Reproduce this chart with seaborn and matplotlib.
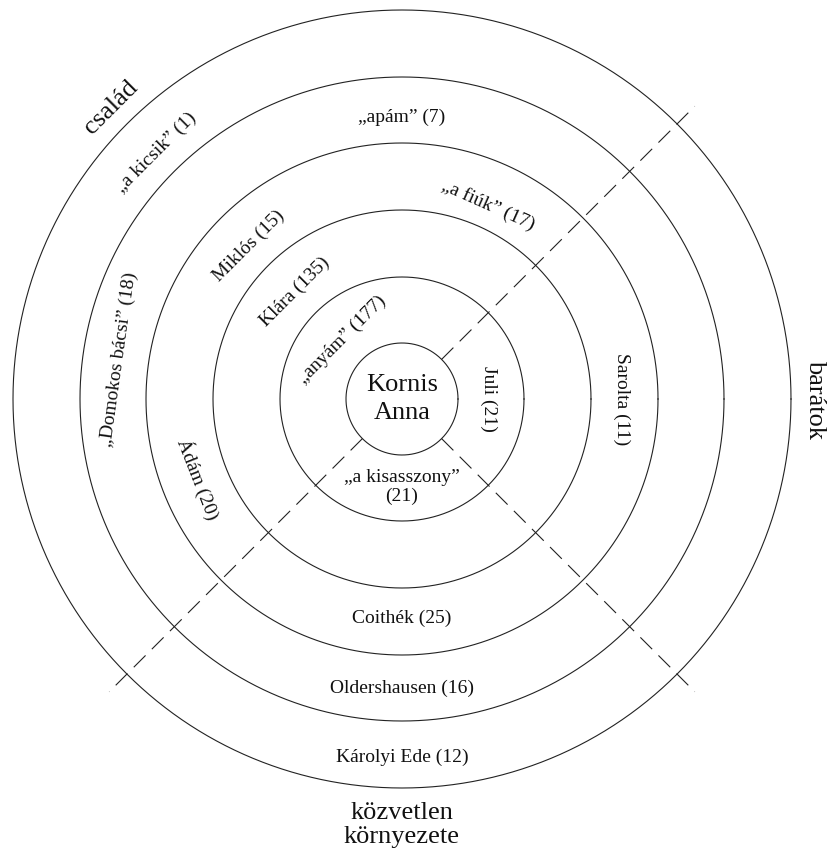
import numpy as np
import pandas as pd
import matplotlib.pyplot as plt
import seaborn as sns

# körök sugarai (px-ben, a középponttól)
ring_radii = [56, 122, 189, 256, 322, 389]

# szaggatott elválasztó vonalak szögei (fok) és hossza
divider_angles = [45, 225, -45]
divider_start = 56
divider_end = 414

# nevek a gyűrűkben
names = ['„anyám” (177)', 'Klára (135)', 'Miklós (15)', '„Domokos bácsi” (18)',
         '„a kicsik” (1)', '„apám” (7)', '„a fiúk” (17)', 'Ádám (20)',
         'Juli (21)', 'Sarolta (11)', '„a kisasszony”\n(21)', 'Coithék (25)',
         'Oldershausen (16)', 'Károlyi Ede (12)']
name_radius = [84, 152, 217, 286, 348, 282, 212, 219, 87, 220, 88, 219, 289, 358]
name_angle = [135, 135, 135, 172, 135, 90, 66, 201.5, 0, 0, -90, -90, -90, -90]

# csoportok a kör szélén
groups = ['család', 'barátok', 'közvetlen\nkörnyezete']
group_radius = [412, 413, 426]
group_angle = [135, 0, -90]

center_name = 'Kornis\nAnna'


def tangent_rotation(a):
    a = a % 360
    if a <= 180 or a == 0:
        return a - 90
    return a + 90


sns.set_theme(style='white')
plt.rcParams['font.family'] = ['Liberation Serif', 'DejaVu Serif']

fig = plt.figure(figsize=(8.27, 8.51), dpi=100)
ax = fig.add_axes([0, 0, 1, 1])

# körök
t = np.linspace(0, 2 * np.pi, 721)
circles = pd.DataFrame({
    'x': np.concatenate([r * np.cos(t) for r in ring_radii]),
    'y': np.concatenate([r * np.sin(t) for r in ring_radii]),
    'ring': np.repeat(np.arange(len(ring_radii)), len(t)),
})
sns.lineplot(data=circles, x='x', y='y', units='ring', estimator=None, sort=False,
             color='#222222', linewidth=0.8, ax=ax)

# szaggatott vonalak
rad = np.deg2rad(divider_angles)
dividers = pd.DataFrame({
    'x': np.concatenate([[divider_start * np.cos(a), divider_end * np.cos(a)] for a in rad]),
    'y': np.concatenate([[divider_start * np.sin(a), divider_end * np.sin(a)] for a in rad]),
    'seg': np.repeat(np.arange(len(rad)), 2),
})
sns.lineplot(data=dividers, x='x', y='y', units='seg', estimator=None, sort=False,
             color='#222222', linewidth=0.8, linestyle=(0, (15, 8)), ax=ax)

# nevek
for txt, r, a in zip(names, name_radius, name_angle):
    ax.text(r * np.cos(np.deg2rad(a)), r * np.sin(np.deg2rad(a)), txt,
            rotation=tangent_rotation(a), rotation_mode='anchor',
            ha='center', va='center', fontsize=14, linespacing=1.17, color='#111111')

for txt, r, a in zip(groups, group_radius, group_angle):
    ax.text(r * np.cos(np.deg2rad(a)), r * np.sin(np.deg2rad(a)), txt,
            rotation=tangent_rotation(a), rotation_mode='anchor',
            ha='center', va='center', fontsize=19, linespacing=1.12, color='#111111')

ax.text(0, 0, center_name, ha='center', va='center', fontsize=19,
        linespacing=1.3, color='#111111')

ax.set_xlim(-402, 425)
ax.set_ylim(-452, 399)
ax.set_aspect('equal')
ax.axis('off')

fig.savefig('out.png', dpi=100, facecolor='white')
